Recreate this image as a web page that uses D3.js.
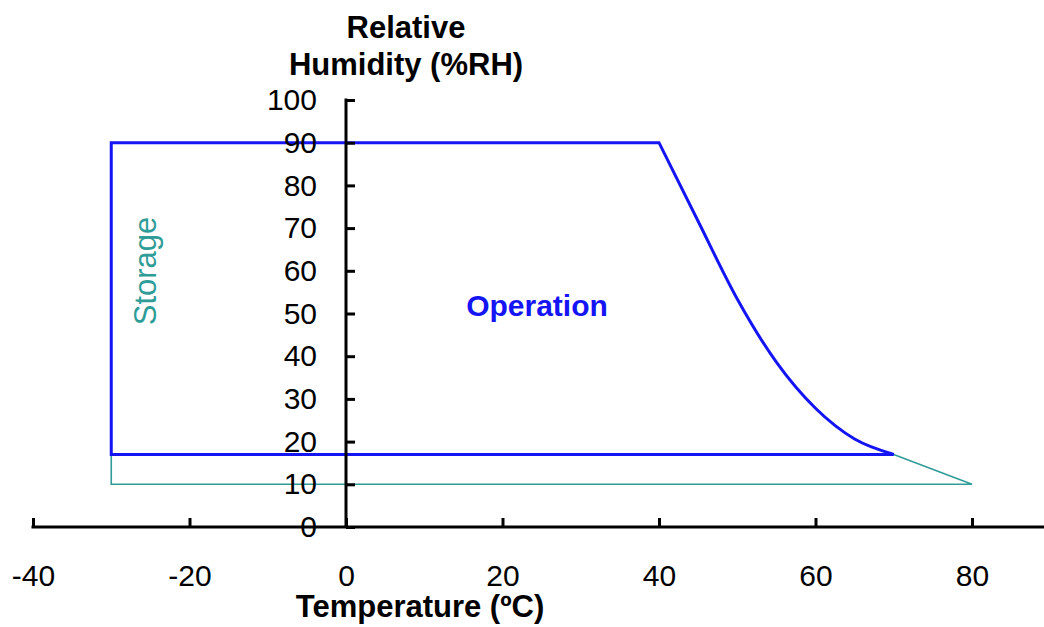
<!DOCTYPE html>
<html>
<head>
<meta charset="utf-8">
<script src="https://cdn.jsdelivr.net/npm/d3@7"></script>
<style>
	body { margin: 0; background: #fff; }
	text { font-family: "Liberation Sans", Arial, sans-serif; }
	.axis path { display: none; }
	.axis line { stroke: #000; stroke-width: 3; }
	.axis text { font-size: 30px; fill: #000; }
</style>
</head>
<body>
<div id="viz"></div>
<script>
// tick values
var xTicks = [-40, -20, 0, 20, 40, 60, 80];
var yTicks = [0, 10, 20, 30, 40, 50, 60, 70, 80, 90, 100];

// derating curve (upper right edge of both zones)
var curveTemp = [40, 45, 50, 55, 60, 65, 70];
var curveRH = [90, 71.6, 53.4, 38.6, 27.8, 20.6, 17];

// zone limits
var tempLow = -30;
var rhHigh = 90;
var opRHLow = 17;
var storTempHigh = 80;
var storRHLow = 10;

var width = 1044,
		height = 627;

var svg = d3.select('#viz')
	.append('svg')
	.attr('width', width)
	.attr('height', height);

var x = d3.scaleLinear()
	.domain([-40, 80])
	.range([33, 972]);

var y = d3.scaleLinear()
	.domain([0, 100])
	.range([527, 100]);

var curvePts = curveTemp.map(function(t, i){ return [t, curveRH[i]]; });

var lineLin = d3.line()
	.x(function(d){ return x(d[0]); })
	.y(function(d){ return y(d[1]); });

var lineCurve = d3.line()
	.x(function(d){ return x(d[0]); })
	.y(function(d){ return y(d[1]); })
	.curve(d3.curveMonotoneX);

function joinPath(parts){
	return parts.map(function(p, i){ return i ? p.replace(/^M/, 'L') : p; }).join('') + 'Z';
}

var last = curvePts[curvePts.length - 1];

// storage zone
var storPath = joinPath([
	lineLin([[tempLow, storRHLow], [tempLow, rhHigh], curvePts[0]]),
	lineCurve(curvePts),
	lineLin([last, [storTempHigh, storRHLow], [tempLow, storRHLow]])
]);

// operation zone
var opPath = joinPath([
	lineLin([[tempLow, opRHLow], [tempLow, rhHigh], curvePts[0]]),
	lineCurve(curvePts),
	lineLin([last, [tempLow, opRHLow]])
]);

svg.append('path')
	.attr('d', storPath)
	.style('fill', 'none')
	.style('stroke', '#2f9c97')
	.style('stroke-width', 1.6);

svg.append('path')
	.attr('d', opPath)
	.style('fill', 'none')
	.style('stroke', '#1414f5')
	.style('stroke-width', 3)
	.style('stroke-linejoin', 'miter');

// axes (plain hyphen for negatives, like the original)
var plain = function(d){ return String(d); };

svg.append('g')
	.attr('class', 'axis')
	.attr('transform', 'translate(' + x(0) + ',0)')
	.call(d3.axisLeft(y).tickValues(yTicks).tickFormat(plain).tickSize(-9).tickSizeOuter(0).tickPadding(29));

svg.append('line')
	.attr('x1', x(0)).attr('x2', x(0))
	.attr('y1', y(0)).attr('y2', y(100) - 1.5)
	.style('stroke', '#000').style('stroke-width', 3);

svg.append('g')
	.attr('class', 'axis')
	.attr('transform', 'translate(0,' + y(0) + ')')
	.call(d3.axisBottom(x).tickValues(xTicks).tickFormat(plain).tickSize(-9).tickSizeOuter(0).tickPadding(38));

svg.append('line')
	.attr('x1', x(-40) - 1.5).attr('x2', width)
	.attr('y1', y(0)).attr('y2', y(0))
	.style('stroke', '#000').style('stroke-width', 3);

// titles
var yTitle = svg.append('text')
	.attr('text-anchor', 'middle')
	.style('font-size', '31px')
	.style('font-weight', 'bold');
yTitle.append('tspan').attr('x', 406).attr('y', 38).text('Relative');
yTitle.append('tspan').attr('x', 406).attr('y', 75).text('Humidity (%RH)');

svg.append('text')
	.attr('x', 420)
	.attr('y', 617)
	.attr('text-anchor', 'middle')
	.style('font-size', '31px')
	.style('font-weight', 'bold')
	.text('Temperature (ºC)');

// zone labels
svg.append('text')
	.attr('x', 537)
	.attr('y', 316)
	.attr('text-anchor', 'middle')
	.style('font-size', '30px')
	.style('font-weight', 'bold')
	.style('fill', '#1414f5')
	.text('Operation');

svg.append('text')
	.attr('transform', 'translate(156,271) rotate(-90)')
	.attr('text-anchor', 'middle')
	.style('font-size', '31px')
	.style('fill', '#2f9c97')
	.text('Storage');
</script>
</body>
</html>
